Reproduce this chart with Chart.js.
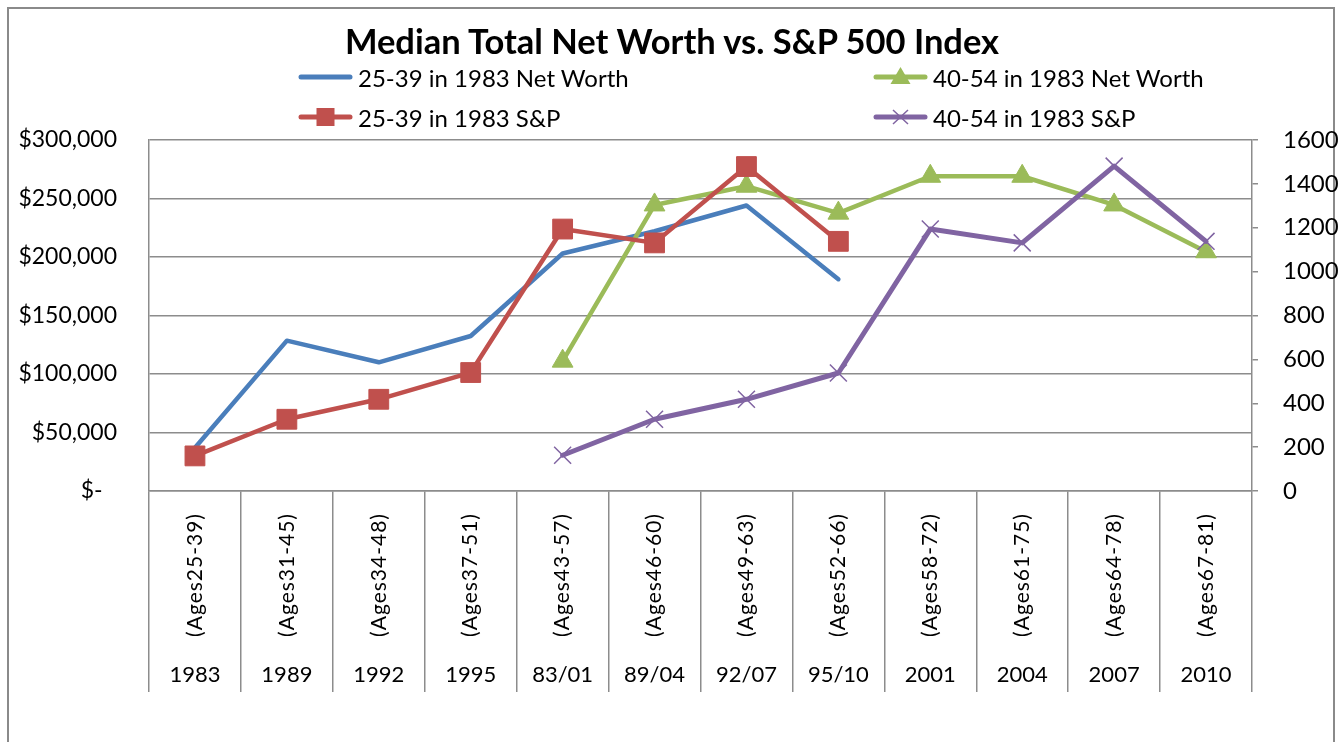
<!DOCTYPE html>
<html>
<head>
<meta charset="utf-8">
<title>Median Total Net Worth vs. S&amp;P 500 Index</title>
<script src="https://cdn.jsdelivr.net/npm/chart.js@4.4.1/dist/chart.umd.min.js"></script>
<style>
  body { margin: 0; background: #fff; overflow: hidden; font-family: Lato, sans-serif; }
  #wrap { position: relative; width: 1344px; height: 742px; }
  #frame { position: absolute; left: 7px; top: 7px; width: 1324px; height: 800px; border: 2px solid #8a8a8a; box-sizing: content-box; }
  #title { position: absolute; left: 0; width: 1344px; top: 20px; text-align: center; font: bold 34.5px Lato, sans-serif; color: #000; }
  .leg { position: absolute; display: flex; align-items: center; font: 24px Lato, sans-serif; color: #000; white-space: nowrap; }
  .leg svg { margin-right: 5px; }
  #chartBox { position: absolute; left: 0; top: 0; width: 1344px; height: 742px; }
</style>
</head>
<body>
<div id="wrap">
  <div id="frame"></div>
  <div id="chartBox"><canvas id="mycanvas"></canvas></div>
  <div id="title">Median Total Net Worth vs. S&amp;P 500 Index</div>
  <div class="leg" style="left:298px; top:62px;">
    <svg width="55" height="30"><line x1="3" y1="15" x2="52" y2="15" stroke="#4A7EBB" stroke-width="5" stroke-linecap="round"/></svg>25-39 in 1983 Net Worth
  </div>
  <div class="leg" style="left:873px; top:62px;">
    <svg width="55" height="30"><line x1="3" y1="15" x2="52" y2="15" stroke="#9BBB59" stroke-width="5" stroke-linecap="round"/><polygon points="27.5,5 37.5,22 17.5,22" fill="#9BBB59"/></svg>40-54 in 1983 Net Worth
  </div>
  <div class="leg" style="left:298px; top:102px;">
    <svg width="55" height="30"><line x1="3" y1="15" x2="52" y2="15" stroke="#C0504D" stroke-width="5" stroke-linecap="round"/><rect x="18.5" y="6" width="18" height="18" fill="#C0504D"/></svg>25-39 in 1983 S&amp;P
  </div>
  <div class="leg" style="left:873px; top:102px;">
    <svg width="55" height="30"><line x1="3" y1="15" x2="52" y2="15" stroke="#8064A2" stroke-width="5" stroke-linecap="round"/><path d="M20 8 L35 22 M35 8 L20 22" stroke="#8064A2" stroke-width="1.5"/></svg>40-54 in 1983 S&amp;P
  </div>
</div>
<script>
// category labels (two levels)
var years = ['1983', '1989', '1992', '1995', '83/01', '89/04', '92/07', '95/10', '2001', '2004', '2007', '2010'];
var ages = ['(Ages25-39)', '(Ages31-45)', '(Ages34-48)', '(Ages37-51)', '(Ages43-57)', '(Ages46-60)',
            '(Ages49-63)', '(Ages52-66)', '(Ages58-72)', '(Ages61-75)', '(Ages64-78)', '(Ages67-81)'];

// series
var nw2539 = [37000, 128500, 110000, 132500, 203000, 222000, 244000, 181000, null, null, null, null];
var sp2539 = [160, 327, 418, 540, 1194, 1131, 1479, 1138, null, null, null, null];
var nw4054 = [null, null, null, null, 111000, 244500, 260500, 237500, 269000, 269000, 244500, 204500];
var sp4054 = [null, null, null, null, 163, 327, 418, 538, 1194, 1131, 1481, 1138];

// axis ticks
var leftMax = 300000, leftStep = 50000;
var rightMax = 1600, rightStep = 200;

Chart.defaults.font.family = 'Lato';
Chart.defaults.color = '#000';

function money(v) {
  if (v === 0) return '$-\u2002\u2009';
  return '$' + v.toLocaleString('en-US');
}

// draws the two rows of category labels under the x axis
var multiLevelLabels = {
  id: 'multiLevelLabels',
  afterDraw: function(chart) {
    var xs = chart.scales.x;
    var ctx = chart.ctx;
    ctx.save();
    ctx.fillStyle = '#000';
    ctx.textAlign = 'center';
    ctx.textBaseline = 'middle';
    for (var i = 0; i < years.length; i++) {
      var px = xs.getPixelForValue(i);
      ctx.save();
      ctx.font = '21px Lato';
      ctx.letterSpacing = '1px';
      ctx.translate(px, xs.top + 84);
      ctx.rotate(-Math.PI / 2);
      ctx.fillText(ages[i], 0, 0);
      ctx.restore();
      ctx.font = '22px Lato';
      ctx.fillText(years[i], px, xs.top + 184);
    }
    ctx.restore();
  }
};

var gridGray = '#8c8c8c';

var ctx = document.getElementById('mycanvas');
var chart = new Chart(ctx, {
  type: 'line',
  data: {
    labels: years,
    datasets: [
      {
        label: '25-39 in 1983 Net Worth', data: nw2539, yAxisID: 'y', order: 4,
        borderColor: '#4A7EBB', backgroundColor: '#4A7EBB', borderWidth: 4.5,
        pointRadius: 0, borderCapStyle: 'round', borderJoinStyle: 'round'
      },
      {
        label: '25-39 in 1983 S&P', data: sp2539, yAxisID: 'y1', order: 2,
        borderColor: '#C0504D', backgroundColor: '#C0504D', borderWidth: 4.5,
        pointStyle: 'rect', pointRadius: 14, pointBorderWidth: 1,
        borderCapStyle: 'round', borderJoinStyle: 'round'
      },
      {
        label: '40-54 in 1983 Net Worth', data: nw4054, yAxisID: 'y', order: 3,
        borderColor: '#9BBB59', backgroundColor: '#9BBB59', borderWidth: 4.5,
        pointStyle: 'triangle', pointRadius: 12, pointBorderWidth: 1,
        borderCapStyle: 'round', borderJoinStyle: 'round'
      },
      {
        label: '40-54 in 1983 S&P', data: sp4054, yAxisID: 'y1', order: 1,
        borderColor: '#8064A2', backgroundColor: '#8064A2', borderWidth: 5,
        pointStyle: 'crossRot', pointRadius: 12, pointBorderWidth: 1.5, pointBorderColor: '#8064A2',
        borderCapStyle: 'round', borderJoinStyle: 'round'
      }
    ]
  },
  options: {
    responsive: true,
    maintainAspectRatio: false,
    animation: false,
    layout: { padding: { left: 0, right: 0, top: 140, bottom: 50 } },
    plugins: {
      legend: { display: false },
      title: { display: false },
      tooltip: { enabled: false }
    },
    scales: {
      x: {
        offset: true,
        grid: { offset: true, drawOnChartArea: false, drawTicks: true, tickLength: 201, color: gridGray, lineWidth: 1.5 },
        border: { color: gridGray, width: 1.5 },
        ticks: { display: false },
        afterFit: function(s) { s.height = 201; }
      },
      y: {
        position: 'left',
        min: 0, max: leftMax,
        grid: { color: gridGray, lineWidth: 1.5, drawTicks: false },
        border: { color: gridGray, width: 1.5 },
        ticks: { stepSize: leftStep, padding: 32, font: { size: 23 }, callback: money },
        afterFit: function(s) { s.width = 149; }
      },
      y1: {
        position: 'right',
        min: 0, max: rightMax,
        grid: { drawOnChartArea: false, drawTicks: true, tickLength: 6, color: gridGray, lineWidth: 1.5 },
        border: { color: gridGray, width: 1.5 },
        ticks: { stepSize: rightStep, padding: 25, font: { size: 24 }, callback: function(v) { return String(v); } },
        afterFit: function(s) { s.width = 92; }
      }
    }
  },
  plugins: [multiLevelLabels]
});
</script>
</body>
</html>
